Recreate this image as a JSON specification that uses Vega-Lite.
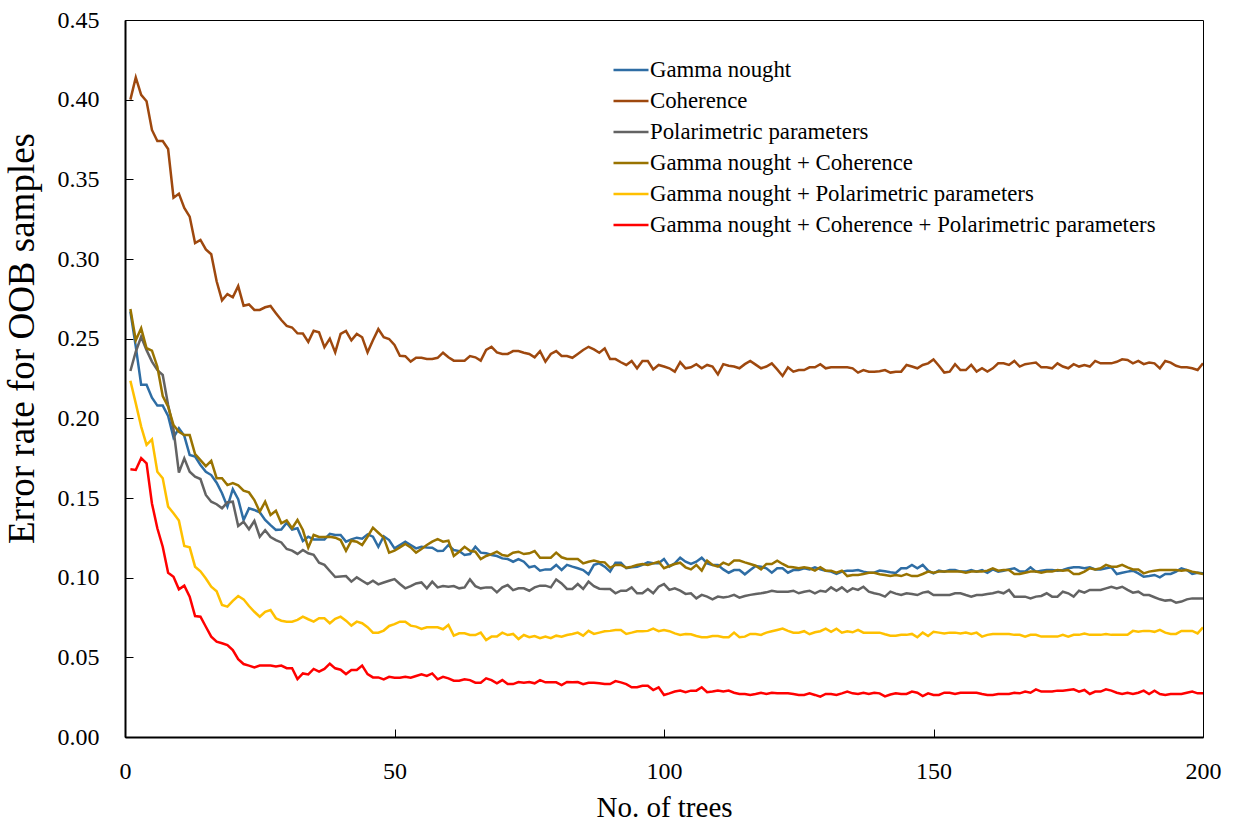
{
"$schema":"https://vega.github.io/schema/vega-lite/v6.json",
"width":1078,"height":717,
"autosize":{"type":"none"},
"padding":{"left":125,"top":20,"right":34,"bottom":90},
"background":"white",
"config":{"view":{"stroke":"black","strokeWidth":1},"font":"Liberation Serif"},
"datasets":{
"names":[{"k":"g","series":"Gamma nought"},{"k":"c","series":"Coherence"},{"k":"p","series":"Polarimetric parameters"},{"k":"gc","series":"Gamma nought + Coherence"},{"k":"gp","series":"Gamma nought + Polarimetric parameters"},{"k":"gcp","series":"Gamma nought + Coherence + Polarimetric parameters"}],
"trees":[
{"n":1,"g":0.267,"c":0.400,"p":0.2297,"gc":0.2686,"gp":0.2236,"gcp":0.168},
{"n":2,"g":0.245,"c":0.414,"p":0.2418,"gc":0.249,"gp":0.2094,"gcp":0.1676},
{"n":3,"g":0.221,"c":0.403,"p":0.2512,"gc":0.2565,"gp":0.1948,"gcp":0.175},
{"n":4,"g":0.221,"c":0.399,"p":0.2428,"gc":0.244,"gp":0.1833,"gcp":0.1717},
{"n":5,"g":0.213,"c":0.381,"p":0.2356,"gc":0.2425,"gp":0.1868,"gcp":0.1466},
{"n":6,"g":0.208,"c":0.374,"p":0.2303,"gc":0.2324,"gp":0.1665,"gcp":0.131},
{"n":7,"g":0.208,"c":0.374,"p":0.2272,"gc":0.214,"gp":0.1624,"gcp":0.1194},
{"n":8,"g":0.2015,"c":0.369,"p":0.2084,"gc":0.2073,"gp":0.1446,"gcp":0.1031},
{"n":9,"g":0.188,"c":0.3385,"p":0.1931,"gc":0.1958,"gp":0.1404,"gcp":0.1006},
{"n":10,"g":0.1937,"c":0.341,"p":0.1659,"gc":0.1916,"gp":0.1358,"gcp":0.0927},
{"n":11,"g":0.189,"c":0.332,"p":0.1749,"gc":0.1895,"gp":0.1199,"gcp":0.095},
{"n":12,"g":0.177,"c":0.3266,"p":0.1665,"gc":0.1895,"gp":0.119,"gcp":0.0881},
{"n":13,"g":0.176,"c":0.310,"p":0.1634,"gc":0.1776,"gp":0.1069,"gcp":0.0759},
{"n":14,"g":0.1707,"c":0.312,"p":0.1619,"gc":0.1738,"gp":0.104,"gcp":0.0755},
{"n":15,"g":0.1665,"c":0.306,"p":0.1519,"gc":0.170,"gp":0.0995,"gcp":0.0692},
{"n":16,"g":0.1644,"c":0.303,"p":0.1477,"gc":0.1733,"gp":0.0943,"gcp":0.063},
{"n":17,"g":0.1596,"c":0.286,"p":0.1461,"gc":0.1624,"gp":0.0915,"gcp":0.0598},
{"n":18,"g":0.153,"c":0.274,"p":0.1435,"gc":0.1624,"gp":0.0828,"gcp":0.0588},
{"n":19,"g":0.1446,"c":0.278,"p":0.1473,"gc":0.1581,"gp":0.0818,"gcp":0.0577},
{"n":20,"g":0.1555,"c":0.276,"p":0.1477,"gc":0.1593,"gp":0.0854,"gcp":0.0546},
{"n":21,"g":0.1492,"c":0.283,"p":0.1324,"gc":0.158,"gp":0.0885,"gcp":0.0488},
{"n":22,"g":0.1362,"c":0.2707,"p":0.1351,"gc":0.1546,"gp":0.0864,"gcp":0.0458},
{"n":23,"g":0.1435,"c":0.2715,"p":0.1304,"gc":0.1535,"gp":0.0822,"gcp":0.0448},
{"n":24,"g":0.1425,"c":0.268,"p":0.1356,"gc":0.1487,"gp":0.0786,"gcp":0.0437},
{"n":25,"g":0.141,"c":0.268,"p":0.1257,"gc":0.1414,"gp":0.0755,"gcp":0.0448},
{"n":26,"g":0.1362,"c":0.2697,"p":0.1298,"gc":0.1477,"gp":0.0786,"gcp":0.0448},
{"n":27,"g":0.133,"c":0.2705,"p":0.1255,"gc":0.1393,"gp":0.0797,"gcp":0.0448},
{"n":28,"g":0.130,"c":0.266,"p":0.1236,"gc":0.142,"gp":0.0745,"gcp":0.0442},
{"n":29,"g":0.1302,"c":0.2617,"p":0.1221,"gc":0.1341,"gp":0.073,"gcp":0.0448},
{"n":30,"g":0.1345,"c":0.258,"p":0.118,"gc":0.136,"gp":0.0724,"gcp":0.0432},
{"n":31,"g":0.1302,"c":0.257,"p":0.117,"gc":0.131,"gp":0.0724,"gcp":0.0432},
{"n":32,"g":0.131,"c":0.2534,"p":0.1149,"gc":0.1362,"gp":0.0735,"gcp":0.0364},
{"n":33,"g":0.123,"c":0.2532,"p":0.1174,"gc":0.1299,"gp":0.0755,"gcp":0.0399},
{"n":34,"g":0.1257,"c":0.248,"p":0.1153,"gc":0.1188,"gp":0.0739,"gcp":0.0393},
{"n":35,"g":0.124,"c":0.255,"p":0.1143,"gc":0.1268,"gp":0.0724,"gcp":0.0427},
{"n":36,"g":0.124,"c":0.254,"p":0.1094,"gc":0.1255,"gp":0.0745,"gcp":0.041},
{"n":37,"g":0.124,"c":0.2446,"p":0.108,"gc":0.1255,"gp":0.0745,"gcp":0.0427},
{"n":38,"g":0.1275,"c":0.250,"p":0.1042,"gc":0.1257,"gp":0.0714,"gcp":0.046},
{"n":39,"g":0.1268,"c":0.2414,"p":0.1004,"gc":0.1251,"gp":0.0742,"gcp":0.0431},
{"n":40,"g":0.1268,"c":0.253,"p":0.1008,"gc":0.1236,"gp":0.0755,"gcp":0.0422},
{"n":41,"g":0.1226,"c":0.2548,"p":0.101,"gc":0.1169,"gp":0.073,"gcp":0.0395},
{"n":42,"g":0.124,"c":0.249,"p":0.0975,"gc":0.1232,"gp":0.0699,"gcp":0.042},
{"n":43,"g":0.1251,"c":0.253,"p":0.1002,"gc":0.1226,"gp":0.0724,"gcp":0.042},
{"n":44,"g":0.1245,"c":0.2509,"p":0.0981,"gc":0.1205,"gp":0.0714,"gcp":0.0448},
{"n":45,"g":0.1272,"c":0.2414,"p":0.096,"gc":0.1257,"gp":0.0689,"gcp":0.0395},
{"n":46,"g":0.1257,"c":0.249,"p":0.0981,"gc":0.1314,"gp":0.0655,"gcp":0.0374},
{"n":47,"g":0.1194,"c":0.256,"p":0.0958,"gc":0.1282,"gp":0.0655,"gcp":0.0374},
{"n":48,"g":0.126,"c":0.2509,"p":0.097,"gc":0.1251,"gp":0.0668,"gcp":0.0362},
{"n":49,"g":0.1236,"c":0.2498,"p":0.0981,"gc":0.1157,"gp":0.0697,"gcp":0.0378},
{"n":50,"g":0.1184,"c":0.246,"p":0.0991,"gc":0.1169,"gp":0.0708,"gcp":0.0372},
{"n":51,"g":0.1205,"c":0.2393,"p":0.096,"gc":0.119,"gp":0.0724,"gcp":0.0372},
{"n":52,"g":0.1226,"c":0.239,"p":0.0933,"gc":0.1211,"gp":0.0724,"gcp":0.0378},
{"n":53,"g":0.1205,"c":0.2356,"p":0.0947,"gc":0.119,"gp":0.0699,"gcp":0.0372},
{"n":54,"g":0.1184,"c":0.238,"p":0.0964,"gc":0.1157,"gp":0.0693,"gcp":0.0383},
{"n":55,"g":0.1194,"c":0.238,"p":0.097,"gc":0.118,"gp":0.0678,"gcp":0.0393},
{"n":56,"g":0.119,"c":0.2373,"p":0.0933,"gc":0.1205,"gp":0.0689,"gcp":0.0383},
{"n":57,"g":0.1188,"c":0.2373,"p":0.0975,"gc":0.1226,"gp":0.0689,"gcp":0.0399},
{"n":58,"g":0.1167,"c":0.238,"p":0.0939,"gc":0.1242,"gp":0.0689,"gcp":0.0362},
{"n":59,"g":0.1169,"c":0.2412,"p":0.0947,"gc":0.1226,"gp":0.0676,"gcp":0.0378},
{"n":60,"g":0.1205,"c":0.2383,"p":0.0943,"gc":0.1232,"gp":0.0703,"gcp":0.0368},
{"n":61,"g":0.1173,"c":0.2362,"p":0.0947,"gc":0.1136,"gp":0.0636,"gcp":0.0353},
{"n":62,"g":0.1167,"c":0.2362,"p":0.0933,"gc":0.1163,"gp":0.0651,"gcp":0.0353},
{"n":63,"g":0.1142,"c":0.2362,"p":0.0939,"gc":0.1194,"gp":0.0651,"gcp":0.0362},
{"n":64,"g":0.1148,"c":0.2391,"p":0.0989,"gc":0.1169,"gp":0.064,"gcp":0.0357},
{"n":65,"g":0.1194,"c":0.2383,"p":0.0947,"gc":0.1163,"gp":0.064,"gcp":0.0341},
{"n":66,"g":0.1157,"c":0.2362,"p":0.0933,"gc":0.1117,"gp":0.0655,"gcp":0.0341},
{"n":67,"g":0.1153,"c":0.2429,"p":0.0939,"gc":0.1136,"gp":0.0609,"gcp":0.0368},
{"n":68,"g":0.1142,"c":0.2449,"p":0.0939,"gc":0.1148,"gp":0.063,"gcp":0.0357},
{"n":69,"g":0.1136,"c":0.2414,"p":0.0908,"gc":0.1163,"gp":0.063,"gcp":0.0337},
{"n":70,"g":0.1121,"c":0.2404,"p":0.0939,"gc":0.1142,"gp":0.0655,"gcp":0.0357},
{"n":71,"g":0.1117,"c":0.2404,"p":0.0954,"gc":0.1136,"gp":0.064,"gcp":0.0332},
{"n":72,"g":0.110,"c":0.2422,"p":0.0922,"gc":0.1157,"gp":0.0647,"gcp":0.0332},
{"n":73,"g":0.1117,"c":0.2422,"p":0.0933,"gc":0.1163,"gp":0.0615,"gcp":0.0345},
{"n":74,"g":0.110,"c":0.2412,"p":0.0933,"gc":0.1148,"gp":0.064,"gcp":0.0341},
{"n":75,"g":0.1065,"c":0.2404,"p":0.0918,"gc":0.1153,"gp":0.0626,"gcp":0.0345},
{"n":76,"g":0.1073,"c":0.2383,"p":0.0939,"gc":0.1167,"gp":0.0634,"gcp":0.0337},
{"n":77,"g":0.1044,"c":0.2422,"p":0.095,"gc":0.1125,"gp":0.062,"gcp":0.0357},
{"n":78,"g":0.1052,"c":0.2356,"p":0.095,"gc":0.1125,"gp":0.063,"gcp":0.0343},
{"n":79,"g":0.1052,"c":0.2404,"p":0.0939,"gc":0.1125,"gp":0.062,"gcp":0.0343},
{"n":80,"g":0.108,"c":0.2422,"p":0.0989,"gc":0.1157,"gp":0.0636,"gcp":0.0343},
{"n":81,"g":0.1048,"c":0.2391,"p":0.0964,"gc":0.1128,"gp":0.063,"gcp":0.0326},
{"n":82,"g":0.108,"c":0.2391,"p":0.0929,"gc":0.1117,"gp":0.064,"gcp":0.0345},
{"n":83,"g":0.1069,"c":0.238,"p":0.0929,"gc":0.1117,"gp":0.0647,"gcp":0.0343},
{"n":84,"g":0.1059,"c":0.2404,"p":0.096,"gc":0.1117,"gp":0.0655,"gcp":0.0345},
{"n":85,"g":0.1048,"c":0.2429,"p":0.0929,"gc":0.109,"gp":0.0636,"gcp":0.0332},
{"n":86,"g":0.1021,"c":0.2449,"p":0.0975,"gc":0.110,"gp":0.0666,"gcp":0.0341},
{"n":87,"g":0.108,"c":0.2433,"p":0.0947,"gc":0.1107,"gp":0.0647,"gcp":0.0341},
{"n":88,"g":0.109,"c":0.2412,"p":0.0931,"gc":0.1098,"gp":0.0655,"gcp":0.0337},
{"n":89,"g":0.1069,"c":0.2439,"p":0.0929,"gc":0.1096,"gp":0.0663,"gcp":0.0332},
{"n":90,"g":0.1038,"c":0.2372,"p":0.0929,"gc":0.1062,"gp":0.0666,"gcp":0.0332},
{"n":91,"g":0.1094,"c":0.2372,"p":0.0902,"gc":0.108,"gp":0.0672,"gcp":0.0351},
{"n":92,"g":0.1094,"c":0.2352,"p":0.0918,"gc":0.108,"gp":0.0672,"gcp":0.0343},
{"n":93,"g":0.1059,"c":0.2335,"p":0.0918,"gc":0.1063,"gp":0.0647,"gcp":0.0332},
{"n":94,"g":0.1065,"c":0.236,"p":0.0939,"gc":0.1069,"gp":0.0655,"gcp":0.0312},
{"n":95,"g":0.1069,"c":0.2314,"p":0.0902,"gc":0.108,"gp":0.0664,"gcp":0.0312},
{"n":96,"g":0.108,"c":0.236,"p":0.0902,"gc":0.1086,"gp":0.0664,"gcp":0.0322},
{"n":97,"g":0.1096,"c":0.236,"p":0.0929,"gc":0.108,"gp":0.0666,"gcp":0.0322},
{"n":98,"g":0.109,"c":0.2307,"p":0.0902,"gc":0.109,"gp":0.068,"gcp":0.0295},
{"n":99,"g":0.109,"c":0.2335,"p":0.0943,"gc":0.110,"gp":0.0664,"gcp":0.0312},
{"n":100,"g":0.1117,"c":0.2325,"p":0.096,"gc":0.1059,"gp":0.0672,"gcp":0.0264},
{"n":101,"g":0.1069,"c":0.2314,"p":0.0923,"gc":0.1073,"gp":0.0664,"gcp":0.0274},
{"n":102,"g":0.109,"c":0.2293,"p":0.0933,"gc":0.1086,"gp":0.065,"gcp":0.0285},
{"n":103,"g":0.1125,"c":0.2352,"p":0.0918,"gc":0.1094,"gp":0.0641,"gcp":0.0291},
{"n":104,"g":0.110,"c":0.2314,"p":0.0898,"gc":0.1065,"gp":0.0647,"gcp":0.0281},
{"n":105,"g":0.1086,"c":0.232,"p":0.0902,"gc":0.1052,"gp":0.0645,"gcp":0.0291},
{"n":106,"g":0.110,"c":0.234,"p":0.087,"gc":0.108,"gp":0.0634,"gcp":0.0291},
{"n":107,"g":0.1125,"c":0.2314,"p":0.0892,"gc":0.1044,"gp":0.0626,"gcp":0.0312},
{"n":108,"g":0.109,"c":0.2335,"p":0.0881,"gc":0.1107,"gp":0.0626,"gcp":0.0281},
{"n":109,"g":0.108,"c":0.2325,"p":0.0864,"gc":0.108,"gp":0.0634,"gcp":0.0285},
{"n":110,"g":0.108,"c":0.2276,"p":0.0881,"gc":0.1069,"gp":0.0634,"gcp":0.0291},
{"n":111,"g":0.1052,"c":0.234,"p":0.0875,"gc":0.1094,"gp":0.0626,"gcp":0.0285},
{"n":112,"g":0.1031,"c":0.233,"p":0.0881,"gc":0.108,"gp":0.0626,"gcp":0.0291},
{"n":113,"g":0.1048,"c":0.2325,"p":0.0892,"gc":0.1107,"gp":0.0655,"gcp":0.0278},
{"n":114,"g":0.1048,"c":0.2314,"p":0.0875,"gc":0.1107,"gp":0.0626,"gcp":0.027},
{"n":115,"g":0.1021,"c":0.234,"p":0.0885,"gc":0.1096,"gp":0.063,"gcp":0.027},
{"n":116,"g":0.1048,"c":0.236,"p":0.0892,"gc":0.1086,"gp":0.0647,"gcp":0.0264},
{"n":117,"g":0.1073,"c":0.2337,"p":0.0898,"gc":0.1075,"gp":0.0647,"gcp":0.027},
{"n":118,"g":0.1069,"c":0.2314,"p":0.0902,"gc":0.1052,"gp":0.0641,"gcp":0.0278},
{"n":119,"g":0.1059,"c":0.2325,"p":0.0908,"gc":0.1086,"gp":0.0655,"gcp":0.027},
{"n":120,"g":0.1031,"c":0.2345,"p":0.0918,"gc":0.1086,"gp":0.0664,"gcp":0.0278},
{"n":121,"g":0.1059,"c":0.2307,"p":0.0912,"gc":0.1107,"gp":0.0672,"gcp":0.0274},
{"n":122,"g":0.1059,"c":0.2266,"p":0.0912,"gc":0.1086,"gp":0.068,"gcp":0.0274},
{"n":123,"g":0.1031,"c":0.232,"p":0.0912,"gc":0.1069,"gp":0.0666,"gcp":0.0274},
{"n":124,"g":0.1048,"c":0.2293,"p":0.0918,"gc":0.1065,"gp":0.0655,"gcp":0.027},
{"n":125,"g":0.1048,"c":0.2303,"p":0.0902,"gc":0.1059,"gp":0.0655,"gcp":0.0264},
{"n":126,"g":0.1059,"c":0.2303,"p":0.0912,"gc":0.1065,"gp":0.0664,"gcp":0.0264},
{"n":127,"g":0.1052,"c":0.232,"p":0.0918,"gc":0.1059,"gp":0.0645,"gcp":0.0274},
{"n":128,"g":0.1065,"c":0.232,"p":0.0902,"gc":0.1044,"gp":0.0657,"gcp":0.0264},
{"n":129,"g":0.1052,"c":0.234,"p":0.0918,"gc":0.1065,"gp":0.0664,"gcp":0.0253},
{"n":130,"g":0.1044,"c":0.2314,"p":0.0912,"gc":0.1044,"gp":0.068,"gcp":0.027},
{"n":131,"g":0.1038,"c":0.232,"p":0.0939,"gc":0.1044,"gp":0.066,"gcp":0.027},
{"n":132,"g":0.1023,"c":0.232,"p":0.0918,"gc":0.1031,"gp":0.068,"gcp":0.0264},
{"n":133,"g":0.1038,"c":0.232,"p":0.0939,"gc":0.1044,"gp":0.0655,"gcp":0.0274},
{"n":134,"g":0.1044,"c":0.232,"p":0.0912,"gc":0.101,"gp":0.0664,"gcp":0.0285},
{"n":135,"g":0.1044,"c":0.2314,"p":0.0933,"gc":0.1017,"gp":0.0657,"gcp":0.0274},
{"n":136,"g":0.1048,"c":0.2287,"p":0.0923,"gc":0.1017,"gp":0.0672,"gcp":0.027},
{"n":137,"g":0.1038,"c":0.2303,"p":0.0943,"gc":0.1023,"gp":0.0655,"gcp":0.0278},
{"n":138,"g":0.1031,"c":0.2293,"p":0.0912,"gc":0.1031,"gp":0.0655,"gcp":0.027},
{"n":139,"g":0.1031,"c":0.2293,"p":0.0902,"gc":0.1031,"gp":0.0655,"gcp":0.0278},
{"n":140,"g":0.1045,"c":0.2295,"p":0.0895,"gc":0.1022,"gp":0.0655,"gcp":0.0274},
{"n":141,"g":0.104,"c":0.2303,"p":0.0881,"gc":0.1017,"gp":0.0645,"gcp":0.0255},
{"n":142,"g":0.1034,"c":0.2287,"p":0.0912,"gc":0.101,"gp":0.0636,"gcp":0.0267},
{"n":143,"g":0.103,"c":0.2293,"p":0.090,"gc":0.1017,"gp":0.0636,"gcp":0.0274},
{"n":144,"g":0.1059,"c":0.2293,"p":0.0891,"gc":0.101,"gp":0.0641,"gcp":0.027},
{"n":145,"g":0.1059,"c":0.2335,"p":0.0902,"gc":0.1023,"gp":0.0641,"gcp":0.027},
{"n":146,"g":0.108,"c":0.2325,"p":0.0898,"gc":0.101,"gp":0.0647,"gcp":0.0285},
{"n":147,"g":0.1059,"c":0.2314,"p":0.0891,"gc":0.101,"gp":0.0626,"gcp":0.0278},
{"n":148,"g":0.108,"c":0.2335,"p":0.0906,"gc":0.1023,"gp":0.0655,"gcp":0.0257},
{"n":149,"g":0.1044,"c":0.2345,"p":0.0912,"gc":0.1038,"gp":0.0634,"gcp":0.0274},
{"n":150,"g":0.1027,"c":0.237,"p":0.0891,"gc":0.1031,"gp":0.066,"gcp":0.0264},
{"n":151,"g":0.1044,"c":0.233,"p":0.0891,"gc":0.1038,"gp":0.0655,"gcp":0.0264},
{"n":152,"g":0.1038,"c":0.2287,"p":0.0891,"gc":0.1038,"gp":0.065,"gcp":0.0278},
{"n":153,"g":0.1048,"c":0.2293,"p":0.0891,"gc":0.1038,"gp":0.0655,"gcp":0.0278},
{"n":154,"g":0.1048,"c":0.234,"p":0.0902,"gc":0.1038,"gp":0.0655,"gcp":0.027},
{"n":155,"g":0.1038,"c":0.2303,"p":0.0902,"gc":0.1038,"gp":0.065,"gcp":0.0278},
{"n":156,"g":0.1038,"c":0.2303,"p":0.0891,"gc":0.1031,"gp":0.0655,"gcp":0.0278},
{"n":157,"g":0.1048,"c":0.2335,"p":0.0881,"gc":0.1038,"gp":0.0647,"gcp":0.0278},
{"n":158,"g":0.1038,"c":0.2293,"p":0.0891,"gc":0.1038,"gp":0.0655,"gcp":0.0278},
{"n":159,"g":0.1048,"c":0.2314,"p":0.0891,"gc":0.1038,"gp":0.063,"gcp":0.027},
{"n":160,"g":0.1031,"c":0.2293,"p":0.0898,"gc":0.1044,"gp":0.0641,"gcp":0.0264},
{"n":161,"g":0.1052,"c":0.2314,"p":0.0902,"gc":0.1059,"gp":0.0647,"gcp":0.0264},
{"n":162,"g":0.1038,"c":0.2345,"p":0.0912,"gc":0.1044,"gp":0.0647,"gcp":0.027},
{"n":163,"g":0.1044,"c":0.2345,"p":0.0902,"gc":0.1048,"gp":0.0647,"gcp":0.027},
{"n":164,"g":0.1052,"c":0.2335,"p":0.0923,"gc":0.1048,"gp":0.0647,"gcp":0.027},
{"n":165,"g":0.1059,"c":0.236,"p":0.0881,"gc":0.1023,"gp":0.0641,"gcp":0.0278},
{"n":166,"g":0.1038,"c":0.2325,"p":0.0881,"gc":0.1023,"gp":0.0641,"gcp":0.0274},
{"n":167,"g":0.1038,"c":0.234,"p":0.0881,"gc":0.1031,"gp":0.063,"gcp":0.0285},
{"n":168,"g":0.1065,"c":0.2345,"p":0.087,"gc":0.1038,"gp":0.0641,"gcp":0.0278},
{"n":169,"g":0.1038,"c":0.235,"p":0.0881,"gc":0.1038,"gp":0.0641,"gcp":0.0299},
{"n":170,"g":0.1044,"c":0.232,"p":0.0885,"gc":0.1031,"gp":0.063,"gcp":0.0285},
{"n":171,"g":0.1048,"c":0.232,"p":0.0902,"gc":0.1038,"gp":0.063,"gcp":0.0285},
{"n":172,"g":0.1048,"c":0.2314,"p":0.0881,"gc":0.1038,"gp":0.063,"gcp":0.0285},
{"n":173,"g":0.1044,"c":0.2345,"p":0.0881,"gc":0.1048,"gp":0.063,"gcp":0.0291},
{"n":174,"g":0.1048,"c":0.2325,"p":0.0912,"gc":0.1044,"gp":0.0641,"gcp":0.0291},
{"n":175,"g":0.1059,"c":0.2314,"p":0.0902,"gc":0.1048,"gp":0.063,"gcp":0.0295},
{"n":176,"g":0.1065,"c":0.234,"p":0.0881,"gc":0.1023,"gp":0.0641,"gcp":0.0299},
{"n":177,"g":0.1065,"c":0.2325,"p":0.0918,"gc":0.1023,"gp":0.0641,"gcp":0.0285},
{"n":178,"g":0.1059,"c":0.2335,"p":0.0906,"gc":0.1038,"gp":0.065,"gcp":0.0295},
{"n":179,"g":0.1065,"c":0.2325,"p":0.0923,"gc":0.1059,"gp":0.0641,"gcp":0.027},
{"n":180,"g":0.1052,"c":0.236,"p":0.0923,"gc":0.1052,"gp":0.0641,"gcp":0.0285},
{"n":181,"g":0.1052,"c":0.2345,"p":0.0923,"gc":0.1059,"gp":0.0641,"gcp":0.0285},
{"n":182,"g":0.1059,"c":0.2345,"p":0.0933,"gc":0.108,"gp":0.0647,"gcp":0.0299},
{"n":183,"g":0.1065,"c":0.2345,"p":0.0943,"gc":0.1069,"gp":0.0641,"gcp":0.0291},
{"n":184,"g":0.1023,"c":0.2355,"p":0.0933,"gc":0.1069,"gp":0.0641,"gcp":0.0278},
{"n":185,"g":0.1031,"c":0.237,"p":0.0943,"gc":0.108,"gp":0.0641,"gcp":0.027},
{"n":186,"g":0.1038,"c":0.2366,"p":0.0923,"gc":0.1065,"gp":0.0641,"gcp":0.0278},
{"n":187,"g":0.1044,"c":0.2345,"p":0.0906,"gc":0.1052,"gp":0.0666,"gcp":0.027},
{"n":188,"g":0.1027,"c":0.236,"p":0.0912,"gc":0.1052,"gp":0.066,"gcp":0.0278},
{"n":189,"g":0.1006,"c":0.234,"p":0.0891,"gc":0.1027,"gp":0.0666,"gcp":0.0291},
{"n":190,"g":0.101,"c":0.235,"p":0.0891,"gc":0.1038,"gp":0.0666,"gcp":0.027},
{"n":191,"g":0.1017,"c":0.2345,"p":0.0877,"gc":0.1044,"gp":0.066,"gcp":0.0291},
{"n":192,"g":0.1002,"c":0.2314,"p":0.0864,"gc":0.1048,"gp":0.0672,"gcp":0.027},
{"n":193,"g":0.1023,"c":0.236,"p":0.0856,"gc":0.1048,"gp":0.0655,"gcp":0.0264},
{"n":194,"g":0.1023,"c":0.235,"p":0.086,"gc":0.1048,"gp":0.0647,"gcp":0.027},
{"n":195,"g":0.1038,"c":0.233,"p":0.0843,"gc":0.1048,"gp":0.0647,"gcp":0.027},
{"n":196,"g":0.1059,"c":0.232,"p":0.085,"gc":0.1044,"gp":0.0666,"gcp":0.027},
{"n":197,"g":0.1048,"c":0.232,"p":0.0864,"gc":0.1048,"gp":0.0666,"gcp":0.0278},
{"n":198,"g":0.1023,"c":0.2314,"p":0.087,"gc":0.1038,"gp":0.0666,"gcp":0.0285},
{"n":199,"g":0.1031,"c":0.2303,"p":0.087,"gc":0.1031,"gp":0.065,"gcp":0.0274},
{"n":200,"g":0.1027,"c":0.2345,"p":0.087,"gc":0.1023,"gp":0.0688,"gcp":0.0274}
]},
"data":{"name":"trees"},
"transform":[
{"fold":["g","c","p","gc","gp","gcp"],"as":["k","v"]},
{"lookup":"k","from":{"data":{"name":"names"},"key":"k","fields":["series"]}}
],
"mark":{"type":"line","strokeWidth":2.5,"clip":true},
"encoding":{
"x":{"field":"n","type":"quantitative","scale":{"domain":[0,200],"nice":false},
"axis":{"values":[0,50,100,150,200],"grid":false,"title":"No. of trees","titleFont":"Liberation Serif","titleFontSize":29,"titleFontWeight":"normal","titleColor":"black","titlePadding":10,"labelFont":"Liberation Serif","labelFontSize":24,"labelColor":"black","labelPadding":30,"tickSize":-8,"tickColor":"black","domainColor":"black","domainWidth":2,"labelFlush":false}},
"y":{"field":"v","type":"quantitative","scale":{"domain":[0,0.45],"nice":false},
"axis":{"values":[0,0.05,0.1,0.15,0.2,0.25,0.3,0.35,0.4,0.45],"format":".2f","grid":false,"title":"Error rate for OOB samples","titleFont":"Liberation Serif","titleFontSize":37,"titleFontWeight":"normal","titleColor":"black","titleAngle":-90,"titleAlign":"center","titleBaseline":"middle","titleX":-103,"titleY":318,"labelFont":"Liberation Serif","labelFontSize":24,"labelColor":"black","labelPadding":34,"tickSize":-8,"tickColor":"black","domainColor":"black","domainWidth":2,"labelFlush":false}},
"color":{"field":"series","type":"nominal","sort":null,
"scale":{"domain":["Gamma nought","Coherence","Polarimetric parameters","Gamma nought + Coherence","Gamma nought + Polarimetric parameters","Gamma nought + Coherence + Polarimetric parameters"],
"range":["#2E6DA4","#9E480E","#636363","#997300","#FFC000","#FF0000"]},
"legend":{"title":null,"orient":"none","legendX":487,"legendY":31,"symbolType":"stroke","symbolSize":1225,"symbolStrokeWidth":2.5,"labelFont":"Liberation Serif","labelFontSize":22.8,"labelColor":"black","labelOffset":0,"rowPadding":-14,"labelLimit":700}},
"order":{"field":"k"}
}
}
